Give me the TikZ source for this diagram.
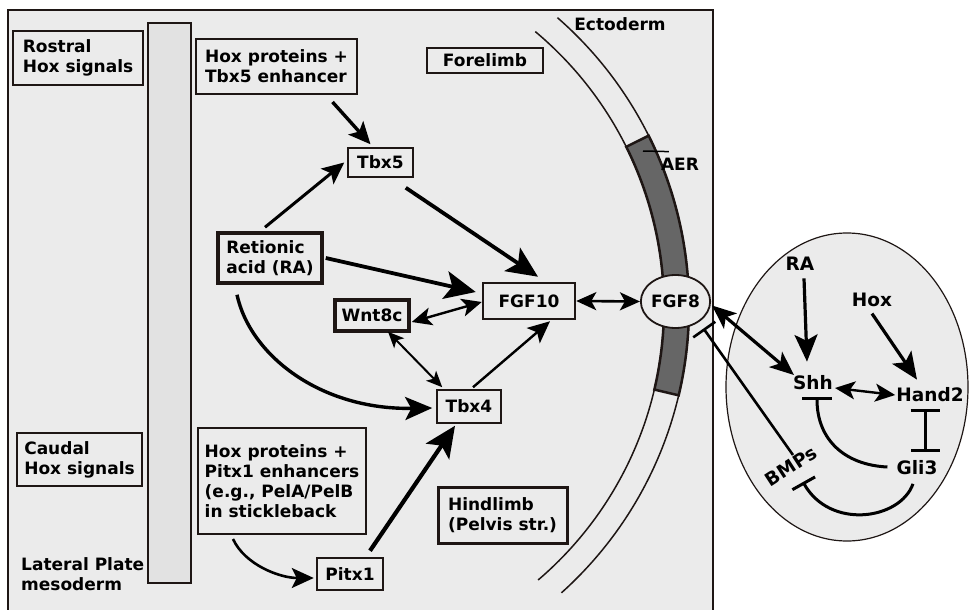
\documentclass[tikz,border=0pt]{standalone}
\usepackage{fontspec}
\setmainfont{DejaVu Sans}
\usetikzlibrary{arrows.meta,shapes.geometric,calc}
\definecolor{bg}{HTML}{EBEBEB}
\definecolor{colbg}{HTML}{E2E2E2}
\definecolor{dk}{HTML}{1E1614}
\definecolor{aerc}{HTML}{666666}
\begin{document}
\begin{tikzpicture}[x=1pt,y=-1pt,
  lbl/.style={font=\bfseries\fontsize{17}{20}\selectfont, align=left},
  box/.style={draw=dk, lbl, inner sep=0pt, rectangle},
  net/.style={font=\bfseries\fontsize{18.5}{22}\selectfont, inner sep=2pt},
  hM/.style={-{Stealth[length=22pt,width=20pt,inset=5pt]}},
  hL/.style={-{Stealth[length=27pt,width=23pt,inset=6pt]}},
  hXL/.style={-{Stealth[length=31pt,width=28pt,inset=7pt]}},
  dS/.style={{Stealth[length=16pt,width=14pt,inset=4pt]}-{Stealth[length=16pt,width=14pt,inset=4pt]}},
  dM/.style={{Stealth[length=20pt,width=18pt,inset=5pt]}-{Stealth[length=20pt,width=18pt,inset=5pt]}},
  dL/.style={{Stealth[length=24pt,width=20pt,inset=6pt]}-{Stealth[length=24pt,width=20pt,inset=6pt]}},
  inh/.style={-{Bar[width=#1]}},
]
\useasboundingbox (0,0) rectangle (970,610);
% frame
\draw[dk, fill=bg, line width=1.6pt] (8,10) rectangle (713,625);
% right ellipse
\draw[dk, fill=bg, line width=1.2pt] (847,387) ellipse [x radius=121pt, y radius=154pt];
% ectoderm
\draw[dk, line width=1.5pt] plot[domain=-48.9:48.1, samples=90, smooth] ({305+384*cos(\x)},{307+384*sin(\x)});
\draw[dk, line width=1.5pt] plot[domain=-50.1:49.5, samples=90, smooth] ({305+359*cos(\x)},{307+359*sin(\x)});
% AER band
\draw[fill=aerc, draw=dk, line width=2.5pt, line join=miter]
  plot[domain=-26.5:13.3, samples=40, smooth] ({305+384*cos(\x)},{307+384*sin(\x)})
  -- plot[domain=13.3:-26.5, samples=40, smooth] ({305+359*cos(\x)},{307+359*sin(\x)}) -- cycle;
% lateral plate column
\node[draw=dk, fill=colbg, line width=2.5pt, minimum width=43pt, minimum height=560pt, inner sep=0pt] (lpm) at (169.5,303) {};
% boxes
\node[box, line width=2.5pt, minimum width=130pt, minimum height=54pt] (rostral) at (78,58) {Rostral\\Hox signals};
\node[box, line width=2.5pt, minimum width=125pt, minimum height=53pt] (caudal) at (79.5,459.5) {Caudal\\Hox signals};
\node[lbl, anchor=west, inner sep=0pt] (lpmtxt) at (21,574) {Lateral Plate\\mesoderm};
\node[box, line width=2pt, minimum width=161pt, minimum height=55pt] (hoxa) at (276.5,66.5) {Hox proteins +\\Tbx5 enhancer};
\node[box, line width=2.5pt, minimum width=116pt, minimum height=25pt] (fore) at (485,60.5) {Forelimb};
\node[box, line width=1.5pt, minimum width=65pt, minimum height=29pt] (tbx5) at (380.5,162.5) {Tbx5};
\node[box, line width=3.5pt, minimum width=104pt, minimum height=50pt] (ra) at (270,258) {Retionic\\acid (RA)};
\node[box, line width=2.5pt, minimum width=92pt, minimum height=36pt] (fgf10) at (529,301) {FGF10};
\node[box, line width=3.5pt, minimum width=74pt, minimum height=31pt] (wnt) at (372,315.5) {Wnt8c};
\node[box, line width=1.5pt, minimum width=64pt, minimum height=33pt] (tbx4) at (469,406.5) {Tbx4};
\node[box, line width=2pt, minimum width=168pt, minimum height=106pt] (hoxb) at (282,481) {Hox proteins +\\Pitx1 enhancers\\(e.g., PelA/PelB\\in stickleback};
\node[box, line width=2.5pt, minimum width=66pt, minimum height=32pt] (pitx1) at (350,574) {Pitx1};
\node[box, line width=3pt, minimum width=129pt, minimum height=56pt] (hind) at (502.5,515) {Hindlimb\\(Pelvis str.)};
\node[lbl] (ecto) at (620,24) {Ectoderm};
\node[lbl, inner sep=0pt] (aerlbl) at (680,164) {AER};
\coordinate (aerpt) at (643,151);
\draw[line width=1.5pt] (aerpt) -- ($(aerlbl.north west)+(8,-6)$);
% right network labels
\node[net] (ra2) at (800,264) {RA};
\node[net] (hox2) at (872,300) {Hox};
\node[net] (shh) at (813,383) {Shh};
\node[net] (hand2) at (930,395) {Hand2};
\node[net] (gli3) at (917,468) {Gli3};
\node[net, rotate=33, inner sep=0pt] (bmps) at (791,466) {BMPs};
% arrows left
\draw[line width=3.4pt, hM] ($(hoxa.south)+(56,7)$) -- ($(tbx5.north)+(-10,-3)$);
\draw[line width=3pt, hM] ($(ra.north)+(-5,-4)$) -- ($(tbx5.west)+(-3,0)$);
\draw[line width=3.8pt, hXL] ($(tbx5.south east)+(-8,10)$) -- ($(fgf10.north)+(9,-5)$);
\draw[line width=3.8pt, hXL] ($(ra.east)+(2,0)$) -- ($(fgf10.west)+(-6,-9)$);
\draw[line width=2.4pt, dM] ($(wnt.east)+(1,6.5)$) -- ($(fgf10.west)+(0,1)$);
\draw[line width=2pt, dS] ($(wnt.south)+(16,-1)$) -- ($(tbx4.north west)+(6,-2)$);
\draw[line width=2.4pt, hM] ($(tbx4.north)+(4,-2)$) -- ($(fgf10.south)+(21,1)$);
\draw[line width=3.4pt, hL] ($(ra.south)+(-33,10)$) .. controls (250,355) and (320,410) .. ($(tbx4.west)+(-4,1.5)$);
\draw[line width=4.2pt, hXL] ($(pitx1.north)+(20,-6)$) -- ($(tbx4.south)+(-14,2)$);
\draw[line width=2.6pt, hM] ($(hoxb.south)+(-49,4)$) .. controls (245,565) and (280,578) .. ($(pitx1.west)+(-2,4)$);
% FGF8 node on top of band
\node[ellipse, draw=dk, fill=bg, line width=1.8pt, minimum width=65pt, minimum height=53pt, inner sep=0pt, lbl] (fgf8) at (675.5,301.5) {FGF8};
\draw[line width=2.6pt, dM] (fgf10.east) -- (fgf8.west);
\draw[line width=3.2pt, dL] ($(fgf8.east)+(1,4)$) -- ($(shh.west)+(3,-8)$);
\draw[line width=2.6pt, inh=27pt] ($(bmps.center)+(2,-11)$) -- ($(fgf8.center)+(28,27)$);
% right network arrows
\draw[line width=3.2pt, hL] ($(ra2.south)+(4,5.5)$) -- ($(shh.north)+(-6,-12)$);
\draw[line width=3.2pt, hL] ($(hox2.south)+(0,4.5)$) -- ($(hand2.north)+(-13,-6)$);
\draw[line width=2.4pt, dM] ($(shh.east)+(0,5)$) -- ($(hand2.west)+(1,0)$);
\draw[line width=3pt, {Bar[width=29pt]}-{Bar[width=29pt]}] ($(hand2.south)+(-5,5)$) -- ($(gli3.north)+(8,-7)$);
\draw[line width=3pt, inh=30pt] ($(gli3.west)+(-7,-1)$) .. controls (845,465) and (817,440) .. ($(shh.south)+(4,5)$);
\draw[line width=3pt, inh=26pt] ($(gli3.south)+(-4,6.5)$) .. controls (900,520) and (830,530) .. ($(bmps.center)+(12,16)$);
\end{tikzpicture}
\end{document}
